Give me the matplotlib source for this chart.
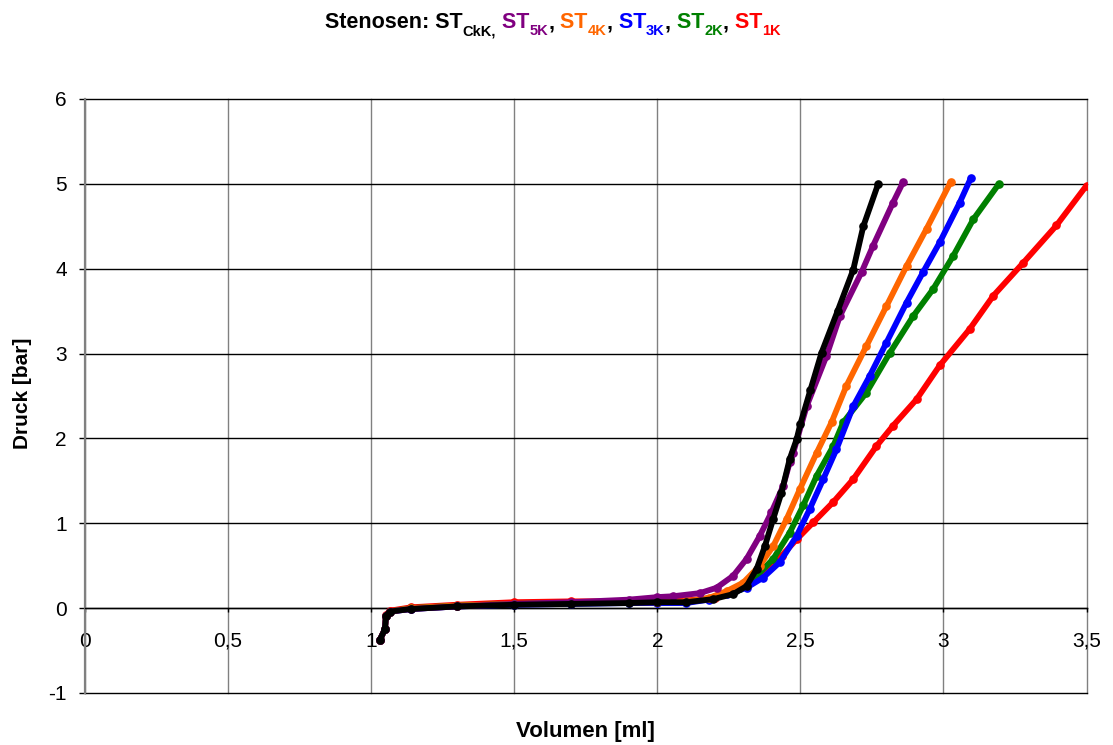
import matplotlib
matplotlib.use("Agg")
import matplotlib.pyplot as plt
from matplotlib.ticker import FixedLocator, FuncFormatter

plt.rcParams['font.family'] = ['Liberation Sans', 'DejaVu Sans']

# ---------------- data ----------------
flat_x = [1.031, 1.048, 1.052, 1.066, 1.14, 1.3, 1.5, 1.7, 1.9, 2.0]

ckk_x = flat_x + [2.1, 2.195, 2.265, 2.312, 2.347, 2.376, 2.405, 2.434, 2.463, 2.487,
                  2.5, 2.535, 2.574, 2.63, 2.685, 2.72, 2.772]
ckk_y = [-0.37, -0.25, -0.09, -0.04, -0.01, 0.02, 0.04, 0.05, 0.06, 0.07,
         0.07, 0.106, 0.165, 0.26, 0.46, 0.73, 1.05, 1.36, 1.76, 1.99,
         2.17, 2.57, 3.01, 3.50, 3.99, 4.50, 5.00]

k5_x = flat_x + [2.055, 2.149, 2.207, 2.265, 2.312, 2.358, 2.399, 2.44, 2.463, 2.475,
                 2.522, 2.591, 2.638, 2.714, 2.754, 2.824, 2.859]
k5_y = [-0.37, -0.25, -0.09, -0.04, -0.01, 0.02, 0.05, 0.07, 0.10, 0.13,
        0.14, 0.177, 0.24, 0.38, 0.58, 0.85, 1.13, 1.44, 1.72, 1.83,
        2.38, 2.97, 3.44, 3.96, 4.27, 4.78, 5.02]

k4_x = flat_x + [2.1, 2.18, 2.242, 2.300, 2.358, 2.405, 2.452, 2.498, 2.557, 2.609,
                 2.661, 2.731, 2.801, 2.871, 2.941, 3.025]
k4_y = [-0.37, -0.25, -0.09, -0.04, 0.0, 0.03, 0.05, 0.06, 0.07, 0.07,
        0.08, 0.12, 0.20, 0.30, 0.50, 0.73, 1.05, 1.40, 1.83, 2.19,
        2.62, 3.09, 3.56, 4.03, 4.47, 5.02]

k3_x = flat_x + [2.1, 2.18, 2.242, 2.312, 2.370, 2.428, 2.487, 2.533, 2.580, 2.626,
                 2.685, 2.743, 2.801, 2.871, 2.929, 2.987, 3.057, 3.096]
k3_y = [-0.37, -0.25, -0.09, -0.04, -0.01, 0.02, 0.04, 0.05, 0.06, 0.06,
        0.06, 0.10, 0.165, 0.24, 0.36, 0.54, 0.85, 1.17, 1.52, 1.87,
        2.38, 2.74, 3.13, 3.60, 3.96, 4.31, 4.78, 5.07]

k2_x = flat_x + [2.1, 2.2, 2.289, 2.347, 2.405, 2.463, 2.510, 2.557, 2.615, 2.650,
                 2.731, 2.813, 2.894, 2.964, 3.034, 3.104, 3.194]
k2_y = [-0.37, -0.25, -0.09, -0.04, 0.0, 0.03, 0.05, 0.06, 0.07, 0.07,
        0.07, 0.13, 0.24, 0.38, 0.58, 0.89, 1.21, 1.56, 1.91, 2.19,
        2.54, 3.01, 3.44, 3.76, 4.15, 4.58, 5.00]

k1_x = flat_x + [2.1, 2.2, 2.312, 2.370, 2.435, 2.487, 2.545, 2.615, 2.685, 2.766,
                 2.824, 2.906, 2.987, 3.092, 3.174, 3.279, 3.395, 3.500]
k1_y = [-0.37, -0.25, -0.08, -0.03, 0.01, 0.04, 0.07, 0.08, 0.08, 0.09,
        0.09, 0.12, 0.26, 0.42, 0.62, 0.81, 1.01, 1.25, 1.52, 1.91,
        2.15, 2.46, 2.86, 3.29, 3.68, 4.07, 4.51, 4.98]

series = [
    (k1_x, k1_y, '#ff0000'),
    (k2_x, k2_y, '#008000'),
    (k3_x, k3_y, '#0000ff'),
    (k4_x, k4_y, '#ff6600'),
    (k5_x, k5_y, '#800080'),
    (ckk_x, ckk_y, '#000000'),
]

x_ticks = [0, 0.5, 1, 1.5, 2, 2.5, 3, 3.5]
y_ticks = [-1, 0, 1, 2, 3, 4, 5, 6]

title_pieces = [
    ("Stenosen: ST", '#000000', False),
    ("CkK,", '#000000', True),
    (" ST", '#800080', False),
    ("5K", '#800080', True),
    (",", '#000000', False),
    (" ST", '#ff6600', False),
    ("4K", '#ff6600', True),
    (",", '#000000', False),
    (" ST", '#0000ff', False),
    ("3K", '#0000ff', True),
    (",", '#000000', False),
    (" ST", '#008000', False),
    ("2K", '#008000', True),
    (",", '#000000', False),
    (" ST", '#ff0000', False),
    ("1K", '#ff0000', True),
]

# ---------------- figure ----------------
W, H = 1113, 745
fig = plt.figure(figsize=(W / 100, H / 100), dpi=100)
ax = fig.add_axes([85 / W, 1 - 693 / H, (1086.5 - 85) / W, (693 - 99) / H])

for xs, ys, c in series:
    ax.plot(xs, ys, color=c, lw=4.2, solid_capstyle='round', solid_joinstyle='round',
            marker='o', ms=5.2, mec=c, mfc=c, zorder=3)

ax.set_xlim(0, 3.5)
ax.set_ylim(-1, 6)

ax.xaxis.set_major_locator(FixedLocator(x_ticks))
ax.yaxis.set_major_locator(FixedLocator(y_ticks))
fmt = FuncFormatter(lambda v, p: ('%g' % v).replace('.', ','))
ax.xaxis.set_major_formatter(fmt)
ax.yaxis.set_major_formatter(fmt)

for s in ['top', 'right']:
    ax.spines[s].set_visible(False)
ax.spines['bottom'].set_position(('data', 0))
ax.spines['bottom'].set_color('black')
ax.spines['bottom'].set_linewidth(1.0)
ax.spines['left'].set_color('#808080')
ax.spines['left'].set_linewidth(1.6)

ax.tick_params(axis='x', direction='out', length=3, width=1, color='black',
               labelsize=15, pad=14)
ax.tick_params(axis='y', direction='out', length=4, width=1, color='black',
               labelsize=15, pad=9)

ax.xaxis.grid(True, color='#808080', lw=1.0)
ax.yaxis.grid(True, color='black', lw=1.0)
ax.set_axisbelow(True)
for gl in ax.get_xgridlines() + ax.get_ygridlines():
    gl.set_clip_on(False)

fig.text(23 / W, 1 - 393 / H, "Druck [bar]", rotation=90, ha='center', va='center',
         fontsize=15, fontweight='bold')
fig.text(585 / W, 1 - 731 / H, "Volumen [ml]", ha='center', va='center',
         fontsize=16, fontweight='bold')

# ---------------- coloured title with subscripts ----------------
renderer = fig.canvas.get_renderer()
main_fs, sub_fs = 15.5, 10.5
base_y = 1 - 28 / H
sub_y = 1 - 35 / H
objs = []
total = 0.0
for txt, col, sub in title_pieces:
    t = fig.text(0, sub_y if sub else base_y, txt, color=col,
                 fontsize=sub_fs if sub else main_fs, fontweight='bold',
                 ha='left', va='baseline')
    w = t.get_window_extent(renderer).width
    objs.append((t, w))
    total += w
x0 = 553 - total / 2
for t, w in objs:
    t.set_x(x0 / W)
    x0 += w

fig.savefig("out.png", dpi=100)
